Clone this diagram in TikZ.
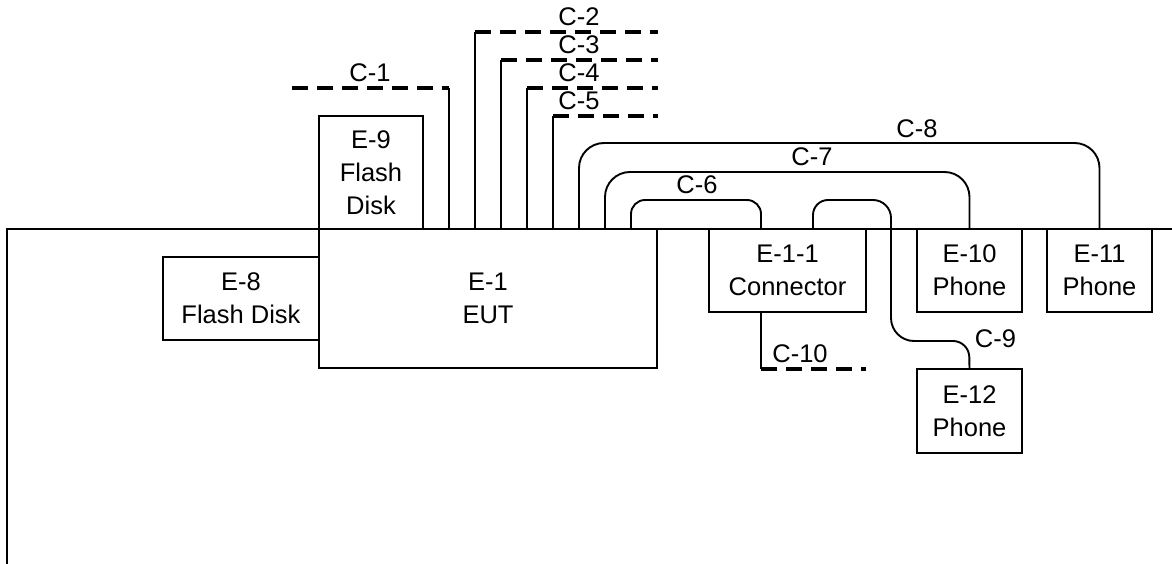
\documentclass[tikz,border=0pt]{standalone}
\usepackage{fontspec}
\setmainfont{Liberation Sans}
\usetikzlibrary{calc}
\begin{document}
\begin{tikzpicture}[x=1pt,y=-1pt,line width=1.9pt,
  box/.style={draw,line width=1.9pt,inner sep=0pt,outer sep=0pt,align=center,font=\fontsize{25.5}{33}\selectfont},
  lab/.style={inner sep=0pt,outer sep=0pt,font=\fontsize{25.5}{33}\selectfont},
  cable/.style={line width=1.9pt},
  dcable/.style={line width=3.2pt,dash pattern=on 16pt off 9pt}]
\useasboundingbox (0,0) rectangle (1172,564);
% table
\draw (7,570) -- (7,229) -- (1180,229);
% equipment
\node[box,minimum width=338pt,minimum height=139pt] (e1) at (488,298.5) {E-1\\EUT};
\node[box,minimum width=104pt,minimum height=113pt] (e9) at (371,172.5) {E-9\\Flash\\Disk};
\node[box,minimum width=156pt,minimum height=83pt] (e8) at (241,298.5) {E-8\\Flash Disk};
\node[box,minimum width=157pt,minimum height=83pt] (e11c) at (787.5,270.5) {E-1-1\\Connector};
\node[box,minimum width=105pt,minimum height=83pt] (e10) at (969.5,270.5) {E-10\\Phone};
\node[box,minimum width=105pt,minimum height=83pt] (e11) at (1099.5,270.5) {E-11\\Phone};
\node[box,minimum width=105pt,minimum height=84pt] (e12) at (969.5,411) {E-12\\Phone};
% free ends
\coordinate (c1e) at (292,88);
\coordinate (c2e) at (658,32);
\coordinate (c3e) at (658,60);
\coordinate (c4e) at (658,88);
\coordinate (c5e) at (658,116);
\coordinate (c10e) at (866,369);
% C-1 .. C-5
\draw[cable] ($(e1.north west)+(130,0)$) coordinate (c1s) -- (c1s |- c1e) coordinate (c1k);
\draw[dcable] (c1e) -- (c1k);
\draw[cable] ($(e1.north west)+(156,0)$) coordinate (c2s) -- (c2s |- c2e) coordinate (c2k);
\draw[dcable] (c2k) -- (c2e);
\draw[cable] ($(e1.north west)+(182,0)$) coordinate (c3s) -- (c3s |- c3e) coordinate (c3k);
\draw[dcable] (c3k) -- (c3e);
\draw[cable] ($(e1.north west)+(208,0)$) coordinate (c4s) -- (c4s |- c4e) coordinate (c4k);
\draw[dcable] (c4k) -- (c4e);
\draw[cable] ($(e1.north west)+(234,0)$) coordinate (c5s) -- (c5s |- c5e) coordinate (c5k);
\draw[dcable] (c5k) -- (c5e);
% C-8, C-7, C-6
\draw[cable,rounded corners=25pt] ($(e1.north west)+(260,0)$) -- ++(0,-86) -| (e11.north);
\draw[cable,rounded corners=25pt] ($(e1.north west)+(286,0)$) -- ++(0,-57) -| (e10.north);
\draw[cable,rounded corners=14pt] ($(e1.north west)+(312,0)$) -- ++(0,-29) -| ($(e11c.north west)+(52,0)$);
% C-9
\draw[cable] ($(e11c.north west)+(104,0)$) [rounded corners=15pt] -- ++(0,-29) [rounded corners=18pt] -- ++(78,0) [rounded corners=23pt] -- ++(0,141) [rounded corners=16pt] -- ++(78,0) -- (e12.north);
% C-10
\draw[cable] ($(e11c.south west)+(52,0)$) -- ($(e11c.south west)+(52,57)$) coordinate (c10k);
\draw[dcable] (c10k) -- (c10e);
% labels
\node[lab] (l1) at (370,72.5) {C-1};
\node[lab] (l2) at (579,16.5) {C-2};
\node[lab] (l3) at (579,44.5) {C-3};
\node[lab] (l4) at (579,72.5) {C-4};
\node[lab] (l5) at (579,101) {C-5};
\node[lab] (l6) at (697,185) {C-6};
\node[lab] (l7) at (812,157) {C-7};
\node[lab] (l8) at (917,129) {C-8};
\node[lab] (l9) at (995.5,339) {C-9};
\node[lab] (l10) at (800,353.5) {C-10};
\end{tikzpicture}
\end{document}
